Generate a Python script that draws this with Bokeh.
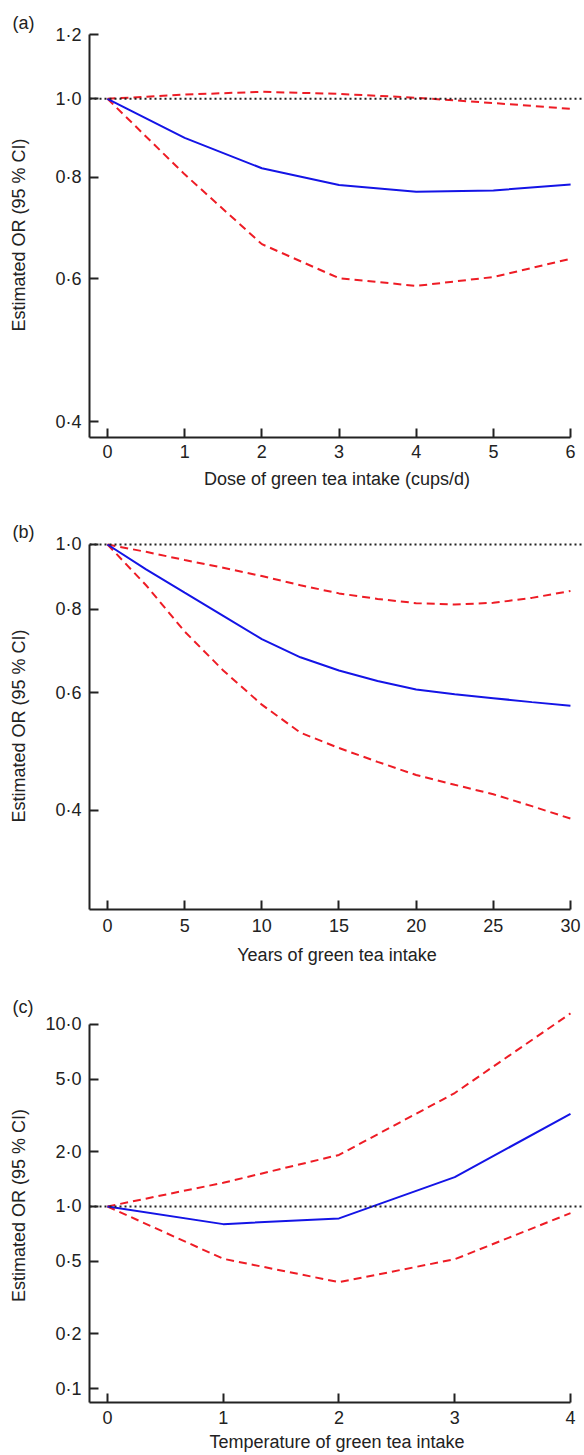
from bokeh.plotting import figure
from bokeh.layouts import column
from bokeh.models import FixedTicker, CustomJSTickFormatter, Span, Range1d
from bokeh.embed import file_html
from bokeh.resources import INLINE

# ---------------- data ----------------
# (a) dose of green tea intake (cups/d)
dose_x = [0, 1, 2, 3, 4, 5, 6]
dose_or = [1.0, 0.895, 0.821, 0.783, 0.768, 0.771, 0.784]
dose_lo = [1.0, 0.807, 0.662, 0.601, 0.588, 0.603, 0.635]
dose_hi = [1.0, 1.012, 1.020, 1.014, 1.003, 0.988, 0.972]
dose_xticks = [0, 1, 2, 3, 4, 5, 6]
dose_yticks = [0.4, 0.6, 0.8, 1.0, 1.2]

# (b) years of green tea intake
years_x = [0, 2.5, 5, 7.5, 10, 12.5, 15, 17.5, 20, 22.5, 25, 27.5, 30]
years_or = [1.0, 0.918, 0.847, 0.782, 0.722, 0.678, 0.648, 0.625, 0.607, 0.597, 0.589, 0.581, 0.574]
years_lo = [1.0, 0.869, 0.741, 0.648, 0.576, 0.523, 0.496, 0.473, 0.452, 0.437, 0.423, 0.406, 0.389]
years_hi = [1.0, 0.975, 0.948, 0.923, 0.897, 0.869, 0.845, 0.829, 0.817, 0.813, 0.818, 0.832, 0.852]
years_xticks = [0, 5, 10, 15, 20, 25, 30]
years_yticks = [0.4, 0.6, 0.8, 1.0]

# (c) temperature of green tea intake
temp_x = [0, 1, 2, 3, 4]
temp_or = [1.0, 0.80, 0.86, 1.45, 3.23]
temp_lo = [1.0, 0.516, 0.384, 0.513, 0.919]
temp_hi = [1.0, 1.35, 1.92, 4.2, 11.5]
temp_xticks = [0, 1, 2, 3, 4]
temp_yticks = [0.1, 0.2, 0.5, 1.0, 2.0, 5.0, 10.0]

YLABEL = "Estimated OR (95 % CI)"
FONT = "Liberation Sans"
TXT = "#222222"
BLUE = "#1414E6"
RED = "#EE1C25"


def panel(letter, xs, ys_or, ys_lo, ys_hi, xticks, yticks, xlabel,
          xr, yr, height, top, bottom, ylab_standoff, xtick_standoff,
          xlab_standoff, title_standoff):
    p = figure(width=584, height=height, y_axis_type="log",
               x_range=Range1d(*xr), y_range=Range1d(*yr),
               min_border_left=89, min_border_right=0,
               min_border_top=top, min_border_bottom=bottom,
               output_backend="svg", toolbar_location=None,
               background_fill_color="white", border_fill_color="white")
    p.outline_line_color = None
    p.grid.visible = False

    p.title.text = letter
    p.title.align = "left"
    p.title.offset = -77
    p.title.standoff = title_standoff
    p.title.text_font = FONT
    p.title.text_font_size = "18px"
    p.title.text_font_style = "normal"
    p.title.text_color = TXT

    for ax in (p.xaxis[0], p.yaxis[0]):
        ax.axis_line_width = 2
        ax.axis_line_color = TXT
        ax.major_tick_line_width = 2
        ax.major_tick_line_color = TXT
        ax.major_tick_in = 9
        ax.major_tick_out = 0
        ax.minor_tick_line_color = None
        ax.major_label_text_font = FONT
        ax.major_label_text_font_size = "18px"
        ax.major_label_text_color = TXT
        ax.axis_label_text_font = FONT
        ax.axis_label_text_font_size = "18px"
        ax.axis_label_text_font_style = "normal"
        ax.axis_label_text_color = TXT

    xa = p.xaxis[0]
    xa.ticker = FixedTicker(ticks=xticks)
    xa.bounds = (xr[0], xticks[-1])
    xa.axis_label = xlabel
    xa.major_label_standoff = xtick_standoff
    xa.axis_label_standoff = xlab_standoff

    ya = p.yaxis[0]
    ya.ticker = FixedTicker(ticks=yticks)
    ya.formatter = CustomJSTickFormatter(code="return tick.toFixed(1).replace('.', '\u00b7');")
    ya.bounds = (yr[0], yticks[-1])
    ya.axis_label = YLABEL
    ya.major_label_standoff = 8
    ya.axis_label_standoff = ylab_standoff

    p.add_layout(Span(location=1.0, dimension="width", line_color=TXT,
                      line_width=2, line_dash="2 3"))

    p.line(xs, ys_hi, line_color=RED, line_width=2, line_dash="8 5")
    p.line(xs, ys_lo, line_color=RED, line_width=2, line_dash="8 5")
    p.line(xs, ys_or, line_color=BLUE, line_width=2)
    return p


pa = panel("(a)", dose_x, dose_or, dose_lo, dose_hi, dose_xticks, dose_yticks,
           "Dose of green tea intake (cups/d)",
           (-0.233, 6.18), (0.3824, 1.207), 505, 32, 68, 23, 7, 8, 0)
pb = panel("(b)", years_x, years_or, years_lo, years_hi, years_xticks, years_yticks,
           "Years of green tea intake",
           (-1.166, 30.91), (0.2844, 1.0069), 475, 37, 71, 23, 9, 10, 2)
pc = panel("(c)", temp_x, temp_or, temp_lo, temp_hi, temp_xticks, temp_yticks,
           "Temperature of green tea intake",
           (-0.1555, 4.121), (0.08377, 12.24), 475, 28, 53, 13, 8, 5, -16)

layout = column(pa, pb, pc)
with open("out.html", "w", encoding="utf-8") as f:
    f.write(file_html(layout, INLINE))
